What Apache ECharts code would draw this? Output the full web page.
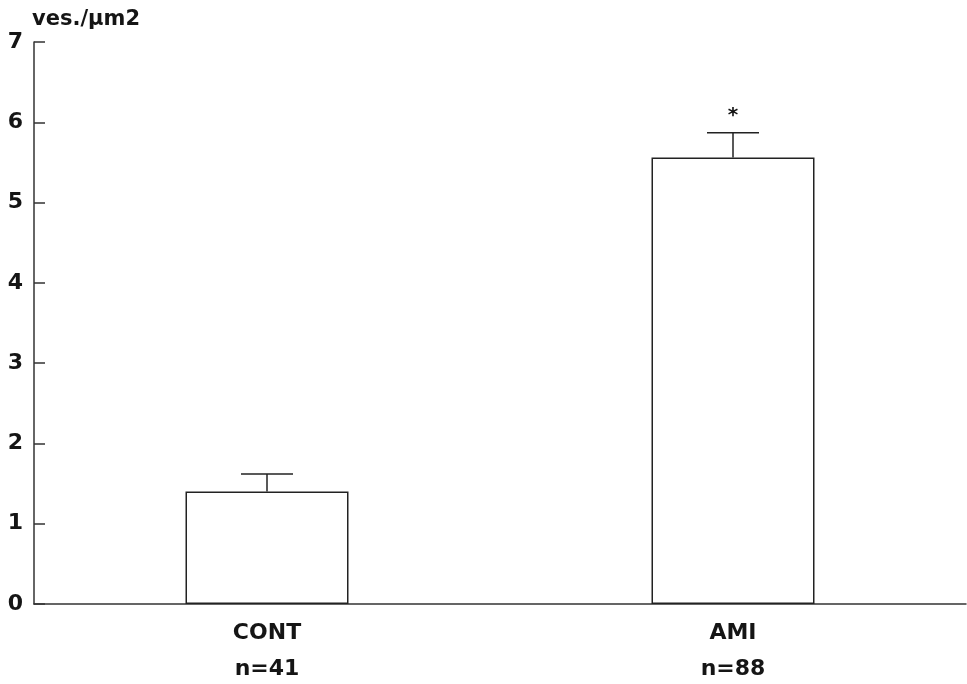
<!DOCTYPE html>
<html>
<head>
<meta charset="utf-8">
<script src="https://cdn.jsdelivr.net/npm/echarts@6/dist/echarts.min.js"></script>
<style>html,body{margin:0;padding:0;background:#fff;}#c{width:967px;height:684px;}</style>
</head>
<body>
<div id="c"></div>
<script>
var categories = ['CONT', 'AMI'];
var sampleSizes = ['n=41', 'n=88'];
var means = [1.40, 5.56];
var errorTops = [1.62, 5.87];
var marks = ['', '*'];
var yTicks = [0, 1, 2, 3, 4, 5, 6, 7];

var chart = echarts.init(document.getElementById('c'));
var font = '"DejaVu Sans", "Liberation Sans", sans-serif';
chart.setOption({
  animation: false,
  backgroundColor: '#ffffff',
  grid: { left: 34, top: 42, width: 932, bottom: 80, containLabel: false, outerBoundsMode: 'none' },
  xAxis: {
    type: 'category',
    data: categories,
    axisLine: { lineStyle: { color: '#333', width: 1.5 } },
    axisTick: { inside: true, alignWithLabel: true, length: 11, lineStyle: { color: '#333', width: 1.5 } },
    axisLabel: {
      margin: 11,
      lineHeight: 36,
      fontFamily: font, fontSize: 22, fontWeight: 'bold', color: '#151515',
      formatter: function (v, i) { return v + '\n' + sampleSizes[i]; }
    }
  },
  yAxis: {
    type: 'value',
    min: yTicks[0], max: yTicks[yTicks.length - 1], interval: 1,
    name: 'ves./µm2',
    nameLocation: 'end',
    nameGap: 12,
    nameTextStyle: { fontFamily: font, fontSize: 21, fontWeight: 'bold', color: '#151515', align: 'left', padding: [0, 0, 0, -2] },
    axisLine: { show: true, lineStyle: { color: '#333', width: 1.5 } },
    axisTick: { show: true, inside: true, length: 11, lineStyle: { color: '#333', width: 1.5 } },
    splitLine: { show: false },
    axisLabel: { margin: 11, fontFamily: font, fontSize: 22, fontWeight: 'bold', color: '#151515' }
  },
  series: [
    {
      type: 'bar',
      data: means,
      barWidth: 163,
      itemStyle: { color: '#fff', borderColor: '#222', borderWidth: 1.5 },
      z: 2
    },
    {
      type: 'custom',
      z: 3,
      data: categories.map(function (c, i) { return [i, means[i], errorTops[i]]; }),
      renderItem: function (params, api) {
        var i = api.value(0);
        var base = api.coord([i, api.value(1)]);
        var top = api.coord([i, api.value(2)]);
        var half = 26;
        var children = [
          { type: 'line', shape: { x1: base[0], y1: base[1], x2: top[0], y2: top[1] }, style: { stroke: '#222', lineWidth: 1.5 } },
          { type: 'line', shape: { x1: top[0] - half, y1: top[1], x2: top[0] + half, y2: top[1] }, style: { stroke: '#222', lineWidth: 1.5 } }
        ];
        if (marks[i]) {
          children.push({ type: 'text', style: { text: marks[i], x: top[0], y: top[1] - 17, align: 'center', verticalAlign: 'middle', font: 'bold 20px "DejaVu Sans"', fill: '#111' } });
        }
        return { type: 'group', children: children };
      }
    }
  ]
});
</script>
</body>
</html>
